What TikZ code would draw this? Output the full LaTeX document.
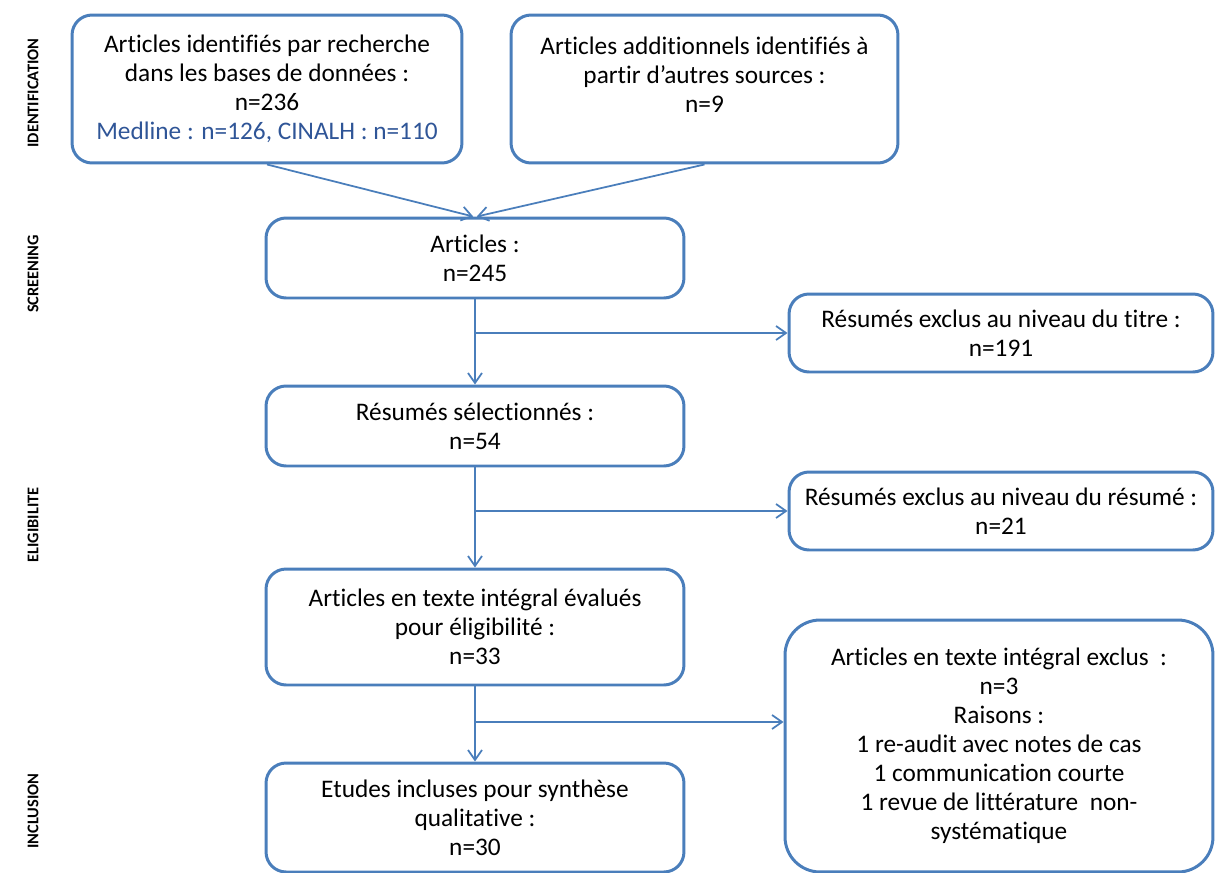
\documentclass[tikz,border=0pt]{standalone}
\usepackage{fontspec}
\setmainfont{Carlito}[Ligatures=NoCommon]
\usetikzlibrary{arrows.meta}
\definecolor{boxBlue}{RGB}{74,126,187}
\definecolor{textBlue}{RGB}{47,85,151}
\newcommand{\phaseLabel}[3]{%
  \node[phaseStyle] (#1) at (#2) {#3};
}

\begin{document}
\begin{tikzpicture}[%
  x=0.02cm,y=-0.02cm,%
  boxStyle/.style={draw=boxBlue,line width=1.7pt,rounded corners=0.4cm,align=center,inner sep=0pt,font=\fontsize{14.4}{16.5}\selectfont},%
  textStyle/.style={align=center,inner sep=0pt,font=\fontsize{14.4}{16.5}\selectfont},%
  arrowStyle/.style={draw=boxBlue,line width=1pt,-{Straight Barb[length=2mm,width=2.8mm]}},%
  phaseStyle/.style={rotate=90,inner sep=0pt,font=\fontsize{9.3}{10}\selectfont\bfseries}%
]
%
\useasboundingbox (0,0) rectangle (1215,873);
%
% Phases on the left.
\phaseLabel{phaseIdent}{33,93}{IDENTIFICATION}
\phaseLabel{phaseScreen}{33,274}{SCREENING}
\phaseLabel{phaseElig}{33,525}{ELIGIBILITE}
\phaseLabel{phaseIncl}{33,811}{INCLUSION}
%
% Identification.
\node[boxStyle,minimum width=7.8cm,minimum height=2.96cm] (identBases) at (267,89)
  {Articles identifiés par recherche\\dans les bases de données :\\n=236\\
   \textcolor{textBlue}{Medline : n=126, CINALH : n=110}};
\node[boxStyle,minimum width=7.74cm,minimum height=2.96cm] (identAutres) at (704.5,89) {};
\node[textStyle] (identAutresTexte) at (704.5,75)
  {Articles additionnels identifiés à\\partir d’autres sources :\\n=9};
%
% The main column.
\node[boxStyle,minimum width=8.36cm,minimum height=1.6cm] (articles) at (475,258)
  {Articles :\\n=245};
\node[boxStyle,minimum width=8.36cm,minimum height=1.6cm] (selec) at (475,426)
  {Résumés sélectionnés :\\n=54};
\node[boxStyle,minimum width=8.36cm,minimum height=2.32cm] (integral) at (475,627)
  {Articles en texte intégral évalués\\pour éligibilité :\\n=33};
\node[boxStyle,minimum width=8.36cm,minimum height=2.18cm] (inclus) at (475,817.5)
  {Etudes incluses pour synthèse\\qualitative :\\n=30};
%
% Exclusions on the right.
\node[boxStyle,minimum width=8.48cm,minimum height=1.56cm] (exclTitre) at (1001,333)
  {Résumés exclus au niveau du titre :\\n=191};
\node[boxStyle,minimum width=8.48cm,minimum height=1.56cm] (exclResume) at (1001,511)
  {Résumés exclus au niveau du résumé :\\n=21};
\node[boxStyle,rounded corners=0.7cm,minimum width=8.56cm,minimum height=5.04cm] (exclInt) at (999,746)
  {Articles en texte intégral exclus\ \ :\\n=3\\Raisons :\\1 re-audit avec notes de cas\\
   1 communication courte\\1 revue de littérature\ \ non-\\systématique};
%
\coordinate (brancheInt) at (475,722);
%
% Arrows.
\draw[arrowStyle] (identBases.south) -- ([xshift=-1pt]articles.north);
\draw[arrowStyle] (identAutres.south) -- ([xshift=1pt]articles.north);
\draw[arrowStyle] (articles.south) -- (selec.north);
\draw[arrowStyle] (articles.south |- exclTitre.west) -- (exclTitre.west);
\draw[arrowStyle] (selec.south) -- (integral.north);
\draw[arrowStyle] (selec.south |- exclResume.west) -- (exclResume.west);
\draw[arrowStyle] (integral.south) -- (inclus.north);
\draw[arrowStyle] (brancheInt) -- (brancheInt -| exclInt.west);
\end{tikzpicture}
\end{document}
